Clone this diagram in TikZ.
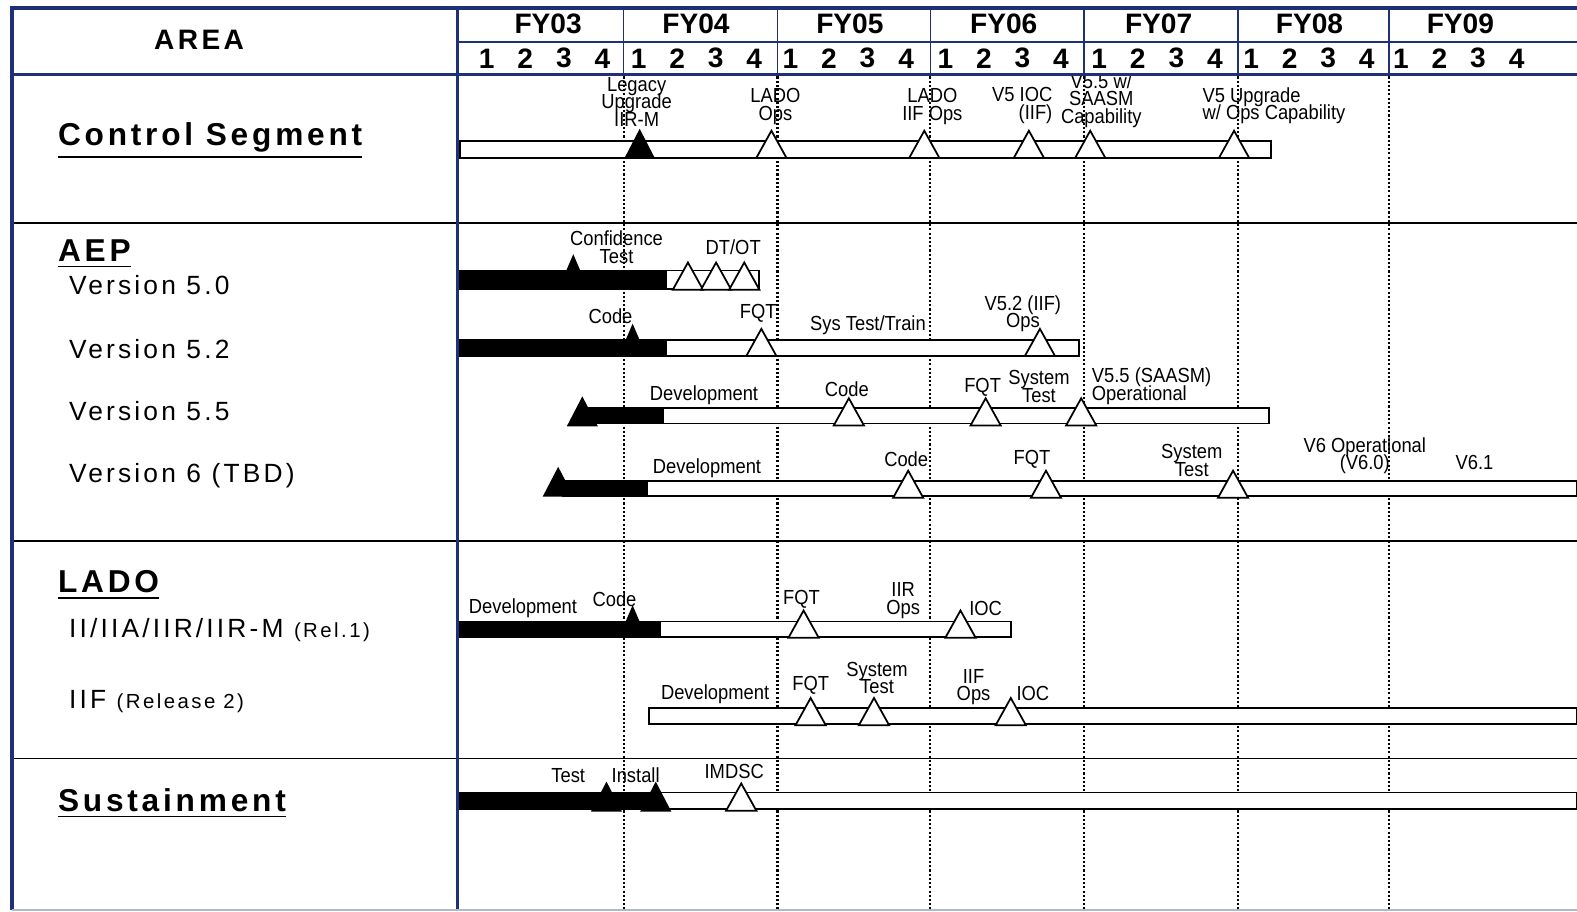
\documentclass[tikz,border=0pt]{standalone}
\usepackage{fontspec}
\setmainfont{Liberation Sans}
\newfontfamily\areafont[LetterSpace=12]{Liberation Sans}
\newfontfamily\tagfont[FakeStretch=0.9]{Liberation Sans}
\newcommand{\tagsize}{\fontsize{5.8}{5}\selectfont\lineskiplimit-5pt\relax}
\definecolor{frameblue}{RGB}{30,48,118}
\tikzstyle{frame}=[draw=frameblue, line width=0.9pt]
\tikzstyle{thinframe}=[draw=frameblue, line width=0.45pt]
\tikzstyle{rowline}=[draw=black, line width=0.45pt]
\tikzstyle{qline}=[draw=black, line width=0.6pt, dash pattern=on 0.6pt off 0.6pt]
\tikzstyle{openbar}=[draw=black, fill=white, line width=0.5pt]
\tikzstyle{donebar}=[draw=black, fill=black, line width=0.5pt]
\tikzstyle{openmk}=[draw=black, fill=white, line width=0.5pt]
\tikzstyle{donemk}=[draw=black, fill=black, line width=0.5pt]
\tikzstyle{head}=[font=\bfseries\fontsize{8}{9}\selectfont, inner sep=0pt]
\tikzstyle{area}=[font=\areafont\bfseries\fontsize{9}{10}\selectfont, anchor=west, inner sep=0pt]
\tikzstyle{item}=[font=\areafont\fontsize{7.5}{9}\selectfont, anchor=west, inner sep=0pt]
\tikzstyle{tag}=[font=\tagfont\tagsize, align=center, inner sep=0pt]
% milestone triangles: x, y of the base
\newcommand{\openmark}[2]{\draw[openmk] (#1-15,#2) -- (#1,#2-27) -- (#1+15,#2) -- cycle;}
\newcommand{\donemark}[2]{\draw[donemk] (#1-14,#2) -- (#1,#2-27) -- (#1+14,#2) -- cycle;}
\newcommand{\smallmark}[2]{\draw[donemk] (#1-6,#2) -- (#1,#2-14) -- (#1+6,#2) -- cycle;}

\begin{document}
\begin{tikzpicture}[x={(0.010057cm,0)}, y={(0,-0.010057cm)}]
	\useasboundingbox (0,0) rectangle (1568,906);
	% quarter grid
	\foreach \xd in {620,773,925,1078,1231,1381}
		\draw[qline] (\xd,76) -- (\xd,905);
	\draw[rowline] (12,222) -- (1568,222);
	\draw[rowline] (12,538) -- (1568,538);
	\draw[rowline] (12,754) -- (1568,754);

	% header
	\node[head, font=\areafont\bfseries\fontsize{8}{9}\selectfont] (area) at (198,40) {AREA};
	\foreach \yr/\xc in {03/545,04/692,05/845,06/998,07/1152,08/1302,09/1452}
		\node[head] (fy\yr) at (\xc,24) {FY\yr};
	\foreach \yr/\xs in {03/484,04/635,05/786,06/940,07/1093,08/1244,09/1393}
		\foreach \q in {1,...,4}
			\node[head] (q\yr\q) at (\xs+38.3*\q-38.3,58) {\q};

	% area column
	\node[area] (cs) at (57,140) {\underline{Control Segment}};
	\node[area] (aep) at (57,253) {\underline{AEP}};
	\node[item] (v50) at (68,283) {Version 5.0};
	\node[item] (v52) at (68,347) {Version 5.2};
	\node[item] (v55) at (68,409) {Version 5.5};
	\node[item] (v6) at (68,473) {Version 6 (TBD)};
	\node[area] (lado) at (57,582) {\underline{LADO}};
	\node[item] (rel1) at (68,626) {II/IIA/IIR/IIR-M {\fontsize{5.8}{7}\selectfont (Rel.1)}};
	\node[item] (rel2) at (68,698) {IIF {\fontsize{5.8}{7}\selectfont (Release 2)}};
	\node[area] (sus) at (57,799) {\underline{Sustainment}};

	% Control Segment
	\draw[openbar] (457,140) rectangle (1264,157);
	\donemark{636}{157}
	\openmark{767}{157}
	\openmark{919}{157}
	\openmark{1023}{157}
	\openmark{1084}{157}
	\openmark{1227}{157}
	\node[tag] (legacy) at (633,101) {Legacy\\Upgrade\\IIR-M};
	\node[tag] (ladoops) at (771,106) {LADO\\Ops};
	\node[tag] (ladoiif) at (927,106) {LADO\\IIF Ops};
	\node[tag, align=right, anchor=east] (v5ioc) at (1047,105) {V5 IOC\\(IIF)};
	\node[tag] (v55cap) at (1095,100) {V5.5 w/\\SAASM\\Capability};
	\node[tag, align=left, anchor=west] (v5upg) at (1195,105) {V5 Upgrade\\w/ Ops Capability};

	% AEP 5.0
	\draw[openbar] (662,269) rectangle (755,287);
	\draw[donebar] (457,269) rectangle (662,287);
	\smallmark{570}{269}
	\openmark{684}{288}
	\openmark{712}{288}
	\openmark{740}{288}
	\node[tag] (conf) at (613,246) {Confidence\\Test};
	\node[tag] (dtot) at (729,246) {DT/OT};

	% AEP 5.2
	\draw[openbar] (662,338) rectangle (1073,354);
	\draw[donebar] (457,338) rectangle (662,354);
	\smallmark{629}{338}
	\openmark{757}{354}
	\openmark{1034}{354}
	\node[tag] (code52) at (607,314) {Code};
	\node[tag] (fqt52) at (754,312) {FQT};
	\node[tag] (sys52) at (863,323) {Sys Test/Train};
	\node[tag] (ops52) at (1017,312) {V5.2 (IIF)\\Ops};

	% AEP 5.5
	\draw[openbar] (659,406) rectangle (1262,421);
	\draw[donebar] (585,406) rectangle (659,421);
	\donemark{579}{423}
	\openmark{844}{423}
	\openmark{980}{423}
	\openmark{1075}{423}
	\node[tag] (dev55) at (700,393) {Development};
	\node[tag] (code55) at (842,387) {Code};
	\node[tag] (fqt55) at (977,385) {FQT};
	\node[tag] (sys55) at (1033,384) {System\\Test};
	\node[tag, align=left, anchor=west] (ops55) at (1085,384) {V5.5 (SAASM)\\Operational};

	% AEP 6
	\draw[openbar] (643,478) rectangle (1568,493);
	\draw[donebar] (560,478) rectangle (643,493);
	\donemark{555}{493}
	\openmark{903}{495}
	\openmark{1040}{495}
	\openmark{1226}{495}
	\node[tag] (dev6) at (703,466) {Development};
	\node[tag] (code6) at (901,457) {Code};
	\node[tag] (fqt6) at (1026,457) {FQT};
	\node[tag] (sys6) at (1185,458) {System\\Test};
	\node[tag] (ops6) at (1357,453) {V6 Operational\\(V6.0)};
	\node[tag] (v61) at (1466,460) {V6.1};

	% LADO rel 1
	\draw[openbar] (656,618) rectangle (1005,633);
	\draw[donebar] (457,618) rectangle (656,633);
	\smallmark{629}{618}
	\openmark{799}{634}
	\openmark{955}{634}
	\node[tag] (devr1) at (520,605) {Development};
	\node[tag] (coder1) at (611,596) {Code};
	\node[tag] (fqtr1) at (797,596) {FQT};
	\node[tag] (opsr1) at (898,597) {IIR\\Ops};
	\node[tag] (iocr1) at (980,605) {IOC};

	% LADO rel 2
	\draw[openbar] (645,704) rectangle (1568,720);
	\openmark{806}{721}
	\openmark{869}{721}
	\openmark{1005}{721}
	\node[tag] (devr2) at (711,690) {Development};
	\node[tag] (fqtr2) at (806,681) {FQT};
	\node[tag] (sysr2) at (872,674) {System\\Test};
	\node[tag] (opsr2) at (968,683) {IIF\\Ops};
	\node[tag] (iocr2) at (1027,690) {IOC};

	% Sustainment
	\draw[openbar] (655,788) rectangle (1568,804);
	\draw[donebar] (457,788) rectangle (655,804);
	\donemark{603}{806}
	\donemark{652}{806}
	\openmark{737}{806}
	\node[tag] (test) at (565,771) {Test};
	\node[tag] (install) at (632,771) {Install};
	\node[tag] (imdsc) at (730,767) {IMDSC};

	% frame
	\draw[thinframe] (455,42) -- (1568,42);
	\foreach \xd in {620,773,925,1078,1231,1381}
		\draw[thinframe] (\xd,8) -- (\xd,74);
	\draw[frame] (12,905) -- (12,8) -- (1568,8);
	\draw[frame] (455,8) -- (455,905);
	\draw[frame] (12,74) -- (1568,74);
	\draw[draw=frameblue!35, line width=0.45pt] (12,905) -- (1568,905);
\end{tikzpicture}
\end{document}
